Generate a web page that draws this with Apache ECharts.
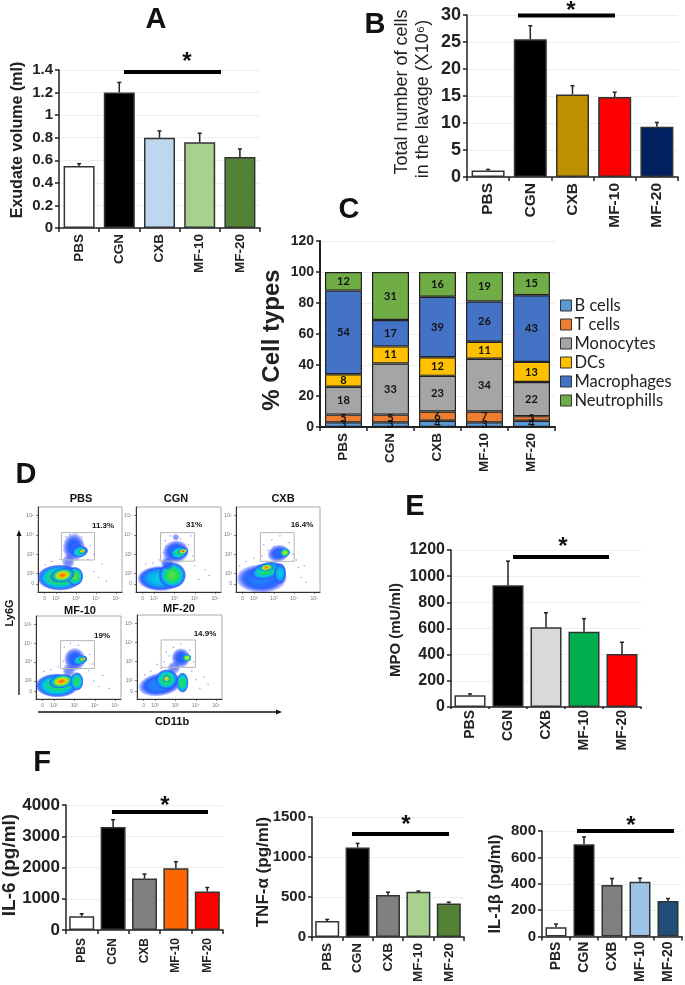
<!DOCTYPE html>
<html>
<head>
<meta charset="utf-8">
<style>html,body{margin:0;padding:0;background:#fff}#c{width:685px;height:985px}</style>
<script src="https://cdn.jsdelivr.net/npm/echarts@6/dist/echarts.min.js"></script>
</head>
<body>
<div id="c"></div>
<script>
// ---- data ----
const groups = ['PBS', 'CGN', 'CXB', 'MF-10', 'MF-20'];

const exudate = [0.55, 1.2, 0.8, 0.76, 0.63];
const exudateErr = [0.02, 0.09, 0.06, 0.08, 0.07];
const exudateColors = ['#ffffff', '#000000', '#BDD7EE', '#A9D18E', '#548235'];

const cellsTotal = [1.2, 25.5, 15.3, 14.8, 9.3];
const cellsTotalErr = [0.2, 2.5, 1.6, 0.9, 0.8];
const cellsTotalColors = ['#ffffff', '#000000', '#BF9000', '#FF0000', '#002060'];

const bCells = [3, 3, 4, 3, 4];
const tCells = [5, 5, 6, 7, 3];
const monocytes = [18, 33, 23, 34, 22];
const dcs = [8, 11, 12, 11, 13];
const macrophages = [54, 17, 39, 26, 43];
const neutrophils = [12, 31, 16, 19, 15];
const cellTypes = ['B cells', 'T cells', 'Monocytes', 'DCs', 'Macrophages', 'Neutrophills'];
const cellTypeColors = ['#5B9BD5', '#ED7D31', '#A5A5A5', '#FFC000', '#4472C4', '#70AD47'];

const mpo = [90, 930, 610, 575, 405];
const mpoErr = [10, 185, 110, 100, 90];
const mpoColors = ['#ffffff', '#000000', '#D9D9D9', '#00B050', '#FF0000'];

const il6 = [440, 3300, 1650, 1975, 1230];
const il6Err = [80, 230, 140, 210, 130];
const il6Colors = ['#ffffff', '#000000', '#7F7F7F', '#FF6600', '#FF0000'];

const tnf = [200, 1120, 525, 565, 420];
const tnfErr = [20, 50, 35, 10, 15];
const tnfColors = ['#ffffff', '#000000', '#7F7F7F', '#A9D18E', '#548235'];

const il1b = [70, 700, 390, 415, 270];
const il1bErr = [25, 55, 50, 28, 18];
const il1bColors = ['#ffffff', '#000000', '#7F7F7F', '#9DC3E6', '#1F4E79'];

// flow cytometry populations: [log CD11b, log Ly6G, spread x, spread y, tilt, peak density]
const flowPBS = [[2.2,1.79,1.14,.68,0,.6],[2.95,1.85,.42,.5,0,.62],[2.33,1.91,.62,.38,10,.92],[2.62,2.61,.32,.38,0,.14],[2.9,3.36,.56,.74,0,.22],[3.2,3.13,.42,.3,15,.52],[3.32,3.17,.2,.14,20,.9]];
const flowCGN = [[2.32,1.74,1.15,.66,0,.42],[2.9,1.91,.68,.68,0,.62],[2.65,2.52,.32,.34,0,.18],[3.07,3.13,.66,.6,10,.24],[3.23,3.08,.46,.32,15,.55],[3.42,3.15,.26,.16,15,.95],[3.07,3.88,.18,.18,0,.12]];
const flowCXB = [[2.38,1.74,1.28,.76,0,.28],[2.63,2.14,.82,.44,15,.55],[2.63,2.31,.38,.2,10,.92],[3.3,2,.32,.56,0,.42],[3.22,3.04,.56,.45,15,.22],[3.55,3.08,.25,.23,15,.7]];
const flowMF10 = [[2.15,1.76,1.07,.64,0,.55],[2.37,1.98,.62,.37,10,.92],[3.12,1.97,.33,.5,0,.56],[2.73,2.54,.32,.34,0,.14],[3.02,3.15,.53,.62,0,.22],[3.28,3.11,.38,.25,15,.52],[3.4,3.15,.2,.12,15,.9]];
const flowMF20 = [[2.27,1.81,1.12,.62,10,.3],[2.57,2.07,.56,.54,15,.6],[2.57,2.1,.2,.2,0,.85],[3.35,1.9,.3,.54,0,.58],[2.93,2.68,.32,.34,0,.14],[3.27,3.2,.46,.52,0,.22],[3.57,3.2,.22,.2,0,.72]];
// stray events outside the main populations: [log CD11b, log Ly6G]
const strayPBS = [[2.5,3.9],[2.7,4.02],[3.0,4.05],[3.3,3.9],[3.7,3.45],[3.88,3.0],[2.4,3.2],[2.6,2.95],[3.6,2.72],[3.9,2.1],[4.12,1.8],[4.3,2.5],[1.5,2.45],[1.8,2.62],[2.2,2.72],[4.5,1.6]];
const strayCGN = [[2.55,3.7],[2.8,3.95],[3.3,3.8],[3.7,3.5],[3.9,2.9],[2.45,3.1],[2.5,2.85],[4.0,2.4],[4.2,1.7],[4.5,2.2],[1.6,2.5],[1.95,2.55],[2.25,2.7],[4.7,1.9],[3.8,3.95],[2.6,3.4]];
const strayCXB = [[2.5,3.5],[2.9,3.75],[3.3,3.95],[3.75,3.6],[3.95,3.0],[2.4,2.9],[2.0,2.8],[1.6,2.62],[4.2,2.3],[4.35,1.8],[4.6,1.55],[2.7,3.2],[3.0,3.4],[4.1,2.7],[1.3,2.4],[4.5,2.4]];
const strayMF10 = [[2.5,3.8],[2.8,4.0],[3.2,3.9],[3.75,3.4],[3.9,2.9],[2.45,3.05],[2.55,2.8],[3.7,2.55],[3.95,2.0],[4.2,1.7],[4.4,2.3],[1.5,2.5],[1.85,2.6],[2.2,2.75],[4.7,1.6],[2.7,3.4]];
const strayMF20 = [[2.55,3.5],[2.9,3.75],[3.25,3.95],[3.7,3.6],[3.9,3.0],[2.45,3.0],[2.1,2.85],[3.8,2.5],[4.0,2.05],[4.2,1.6],[4.4,2.2],[1.5,2.3],[1.8,2.5],[2.3,2.65],[4.6,1.8],[2.7,3.3]];
// gates: [x from, x to, y from, y to]
const gatePBS = [2.28, 3.92, 2.7, 4.12];
const gateCGN = [2.32, 3.98, 2.64, 4.12];
const gateCXB = [2.33, 4.0, 2.63, 4.12];
const gateMF10 = [2.32, 3.98, 2.66, 4.14];
const gateMF20 = [2.3, 3.98, 2.7, 4.14];
const flowPercents = ['11.3%', '31%', '16.4%', '19%', '14.9%'];
const flowTicks = [1.45, 2, 3, 4, 5];

// ---- drawing ----
const SANS = '"Liberation Sans", Arial, sans-serif';
const grids = [], xAxes = [], yAxes = [], series = [], graphics = [];

function errorRender(params, api) {
  const i = api.value(0), top = api.value(1) + api.value(2);
  const a = api.coord([i, api.value(1)]), b = api.coord([i, top]);
  const st = { stroke: '#222', lineWidth: 1.5, fill: 'none' };
  return { type: 'group', children: [
    { type: 'line', shape: { x1: a[0], y1: a[1], x2: b[0], y2: b[1] }, style: st },
    { type: 'line', shape: { x1: b[0] - 2, y1: b[1], x2: b[0] + 2, y2: b[1] }, style: st }
  ]};
}

function addAxes(p) {
  const idx = grids.length;
  const lw = p.axisWidth || 1.5;
  grids.push({ left: p.x0, top: p.y0, width: p.x1 - p.x0, height: p.y1 - p.y0 });
  xAxes.push({
    type: 'category', gridIndex: idx, data: groups,
    axisLine: { lineStyle: { color: '#222', width: lw } },
    axisTick: { show: true, length: p.tickLen || 4, lineStyle: { color: '#222', width: 1.5 } },
    axisLabel: { rotate: 90, interval: 0, margin: p.xMargin === undefined ? 6 : p.xMargin, fontFamily: SANS, fontWeight: 'bold', fontSize: p.xFont, color: '#222' }
  });
  yAxes.push({
    type: 'value', gridIndex: idx, min: 0, max: p.max, interval: p.step,
    axisLine: { show: true, lineStyle: { color: '#222', width: lw } },
    axisTick: { show: true, length: 4, lineStyle: { color: '#222', width: 1.5 } },
    splitLine: { show: true, lineStyle: { color: '#eeeeee', width: 1 } },
    axisLabel: { margin: 6, formatter: v => String(v), fontFamily: SANS, fontWeight: 'bold', fontSize: p.yFont, color: '#222' }
  });
  return idx;
}

function barPanel(p) {
  const idx = addAxes(p);
  series.push({
    type: 'bar', xAxisIndex: idx, yAxisIndex: idx, barWidth: p.barWidth, silent: true,
    data: p.values.map((v, i) => ({ value: v, itemStyle: { color: p.colors[i], borderColor: '#333', borderWidth: 1.5 } }))
  });
  series.push({
    type: 'custom', xAxisIndex: idx, yAxisIndex: idx, renderItem: errorRender, clip: false, silent: true, z: 3,
    encode: { x: 0, y: 1 },
    data: p.values.map((v, i) => [i, v, p.errs[i]])
  });
  sigBar(p.sig[0], p.sig[1], p.sig[2], p.sig[3], p.sig[4]);
}

function sigBar(x1, x2, y, sx, sy) {
  graphics.push({ type: 'line', z: 50, shape: { x1, y1: y, x2, y2: y }, style: { stroke: '#000', lineWidth: 4 } });
  graphics.push({ type: 'text', z: 50, x: sx, y: sy, style: { text: '*', font: 'bold 24px ' + SANS, fill: '#111', textAlign: 'center', textVerticalAlign: 'middle' } });
}

function label(text, x, y, font, rot, fill) {
  graphics.push({ type: 'text', z: 50, x, y, rotation: rot || 0, style: { text, font: font + ' ' + SANS, fill: fill || '#111', textAlign: 'center', textVerticalAlign: 'middle' } });
}
const UP = Math.PI / 2;

barPanel({ x0: 59, x1: 260, y0: 70, y1: 228, max: 1.4, step: 0.2, values: exudate, errs: exudateErr, colors: exudateColors,
  barWidth: 31, xFont: 13.5, yFont: 15, sig: [124, 221, 72, 187, 62] });
label('Exudate volume (ml)', 18, 140, 'bold 16px', UP, '#222');

barPanel({ x0: 467, x1: 678, y0: 15, y1: 177, max: 30, step: 5, values: cellsTotal, errs: cellsTotalErr, colors: cellsTotalColors,
  barWidth: 33, xFont: 15.5, yFont: 18, sig: [518, 615, 15.5, 571, 11] });
label('Total number of cells', 402, 92, '18px', UP, '#222');
label('in the lavage (X10\u2076)', 423, 99, '18px', UP, '#222');

barPanel({ x0: 451, x1: 641, y0: 550, y1: 707, max: 1200, step: 200, values: mpo, errs: mpoErr, colors: mpoColors,
  barWidth: 31, xFont: 14, yFont: 16, xMargin: 3, tickLen: 2, sig: [513, 609, 557, 563, 547] });
label('MPO (mU/ml)', 396, 630, 'bold 15px', UP, '#222');

barPanel({ x0: 66, x1: 223, y0: 805, y1: 930, max: 4000, step: 1000, values: il6, errs: il6Err, colors: il6Colors,
  barWidth: 25, xFont: 12, yFont: 17, xMargin: 8, sig: [112, 208, 812, 165, 806] });
label('IL-6 (pg/ml)', 10, 865, 'bold 19px', UP, '#222');

barPanel({ x0: 312, x1: 464, y0: 817, y1: 937, max: 1500, step: 500, values: tnf, errs: tnfErr, colors: tnfColors,
  barWidth: 24, xFont: 13.5, yFont: 15, sig: [352, 449, 834, 406, 825] });
label('TNF-\u03b1 (pg/ml)', 263, 872, 'bold 17px', UP, '#222');

barPanel({ x0: 542, x1: 682, y0: 831, y1: 937, max: 800, step: 200, values: il1b, errs: il1bErr, colors: il1bColors,
  barWidth: 21, xFont: 14, yFont: 15, xMargin: 5, sig: [577, 674, 831, 631, 826] });
label('IL-1\u03b2 (pg/ml)', 495, 884, 'bold 16.5px', UP, '#222');

// Panel C: stacked composition
const cIdx = addAxes({ x0: 320, x1: 555, y0: 241, y1: 427, max: 120, step: 20, xFont: 13.5, yFont: 14, axisWidth: 2 });
label('% Cell types', 272, 340, 'bold 24px', UP, '#222');
[bCells, tCells, monocytes, dcs, macrophages, neutrophils].forEach((vals, k) => {
  series.push({
    type: 'bar', name: cellTypes[k], stack: 'c', xAxisIndex: cIdx, yAxisIndex: cIdx, barWidth: 37, silent: true,
    data: vals,
    itemStyle: { color: cellTypeColors[k], borderColor: '#222', borderWidth: 1.2 },
    label: { show: true, position: 'inside', color: '#111', fontFamily: 'Lato, sans-serif', fontWeight: 'bold', fontSize: 11 }
  });
});

// Panel D: flow plots
const jet = [[0, [50, 50, 255]], [.25, [40, 110, 255]], [.42, [0, 200, 230]], [.58, [30, 220, 90]], [.72, [200, 235, 30]], [.86, [255, 170, 0]], [1, [230, 30, 15]]];
function jetColor(d) {
  let i = 0;
  while (i < jet.length - 2 && d > jet[i + 1][0]) i++;
  const a = jet[i], b = jet[i + 1], t = Math.min(1, Math.max(0, (d - a[0]) / (b[0] - a[0])));
  const rgb = a[1].map((c, n) => Math.round(c + (b[1][n] - c) * t));
  const alpha = Math.min(1, d / 0.2);
  return 'rgba(' + rgb.join(',') + ',' + alpha.toFixed(2) + ')';
}
function blobRender(params, api) {
  const c = api.coord([api.value(0), api.value(1)]);
  const s = api.size([api.value(2), api.value(3)]);
  const peak = api.value(5);
  const power = peak > 0.8 ? 2 : 3;
  const stops = [];
  for (let r = 0; r <= 1.0001; r += 0.1) stops.push({ offset: Math.min(1, r), color: jetColor(peak * (1 - Math.pow(r, power))) });
  return { type: 'circle', x: c[0], y: c[1], rotation: api.value(4) * Math.PI / 180, scaleX: s[0] / 100, scaleY: s[1] / 100,
    shape: { cx: 0, cy: 0, r: 100 },
    style: { fill: { type: 'radial', x: 0.5, y: 0.5, r: 0.5, colorStops: stops } } };
}
function gateRender(params, api) {
  const a = api.coord([api.value(0), api.value(3)]), b = api.coord([api.value(1), api.value(2)]);
  return { type: 'rect', shape: { x: a[0], y: a[1], width: b[0] - a[0], height: b[1] - a[1] }, style: { fill: 'none', stroke: '#b5b5b5', lineWidth: 1 } };
}
function flowPanel(box, blobs, stray, gate, title, pct, tx, ty, px, py) {
  const idx = grids.length;
  grids.push({ left: box[0], top: box[1], width: box[2] - box[0], height: box[3] - box[1], show: true, borderColor: '#a8a8a8', borderWidth: 1, backgroundColor: '#fff' });
  const sup = { 2: '\u00b2', 3: '\u00b3', 4: '\u2074', 5: '\u2075' };
  const fmt = v => v < 2 ? '0' : '10' + sup[Math.round(v)];
  const ax = (minV, maxV) => ({
    type: 'value', gridIndex: idx, min: minV, max: maxV, splitLine: { show: false },
    axisLine: { show: true, onZero: false, lineStyle: { color: '#333', width: 1 } },
    axisTick: { show: true, customValues: flowTicks, length: 2, lineStyle: { color: '#333', width: 0.6 } },
    axisLabel: { customValues: flowTicks, formatter: fmt, margin: 4, fontSize: 5, color: '#777', fontFamily: SANS }
  });
  xAxes.push(ax(1.12, 5.28));
  yAxes.push(ax(1.04, 5.45));
  series.push({ type: 'custom', xAxisIndex: idx, yAxisIndex: idx, clip: true, silent: true, renderItem: blobRender, encode: { x: 0, y: 1 }, data: blobs });
  series.push({ type: 'scatter', xAxisIndex: idx, yAxisIndex: idx, silent: true, symbolSize: 1.3, itemStyle: { color: '#5a5aff' }, data: stray, z: 3 });
  series.push({ type: 'custom', xAxisIndex: idx, yAxisIndex: idx, clip: true, silent: true, z: 4, renderItem: gateRender, encode: { x: [0, 1], y: [2, 3] }, data: [gate] });
  label(title, tx, ty, 'bold 11px');
  label(pct, px, py, 'bold 8px');
}
flowPanel([38, 507, 122, 592], flowPBS, strayPBS, gatePBS, groups[0], flowPercents[0], 81, 499, 103, 526);
flowPanel([136, 507, 221, 592], flowCGN, strayCGN, gateCGN, groups[1], flowPercents[1], 176, 499, 194, 525);
flowPanel([236, 507, 320, 592], flowCXB, strayCXB, gateCXB, groups[2], flowPercents[2], 283, 499, 302, 525);
flowPanel([36, 616, 121, 699], flowMF10, strayMF10, gateMF10, groups[3], flowPercents[3], 80, 611, 102, 636);
flowPanel([137, 615, 222, 699], flowMF20, strayMF20, gateMF20, groups[4], flowPercents[4], 179, 609, 205, 634);

label('Ly6G', 10, 613, 'bold 11px', UP);
label('CD11b', 172, 722, 'bold 11px');
graphics.push({ type: 'line', z: 50, shape: { x1: 19, y1: 695, x2: 19, y2: 533 }, style: { stroke: '#111', lineWidth: 1.3 } });
graphics.push({ type: 'polygon', z: 50, shape: { points: [[19, 530], [16.5, 536], [21.5, 536]] }, style: { fill: '#111' } });
graphics.push({ type: 'line', z: 50, shape: { x1: 38, y1: 712, x2: 279, y2: 712 }, style: { stroke: '#111', lineWidth: 1.3 } });
graphics.push({ type: 'polygon', z: 50, shape: { points: [[282, 712], [276, 709.5], [276, 714.5]] }, style: { fill: '#111' } });

// panel letters
label('A', 156, 20, 'bold 29px');
label('B', 375, 25, 'bold 29px');
label('C', 349, 210, 'bold 29px');
label('D', 26, 475, 'bold 29px');
label('E', 415, 507, 'bold 29px');
label('F', 42, 763, 'bold 29px');

const chart = echarts.init(document.getElementById('c'), null, { renderer: 'canvas' });
chart.setOption({
  animation: false,
  backgroundColor: '#fff',
  grid: grids, xAxis: xAxes, yAxis: yAxes, series,
  legend: {
    data: cellTypes, orient: 'vertical', left: 560, top: 297, padding: 0, itemWidth: 11, itemHeight: 11, itemGap: 2,
    selectedMode: false, icon: 'rect',
    itemStyle: { borderColor: '#333', borderWidth: 1 },
    textStyle: { fontFamily: 'Lato, sans-serif', fontSize: 16.5, color: '#222', padding: [0, 0, 0, -2] }
  },
  graphic: { elements: graphics }
});
</script>
</body>
</html>
